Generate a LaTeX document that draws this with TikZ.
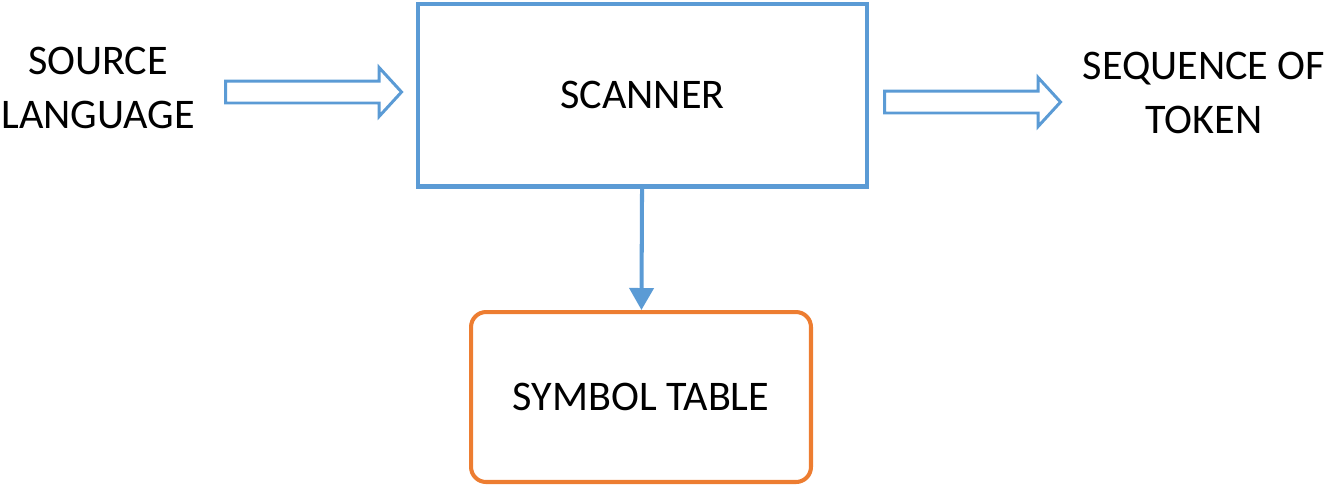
\documentclass[tikz,border=0pt]{standalone}
\usepackage{fontspec}
\setmainfont{Carlito}
\usetikzlibrary{shapes.arrows,arrows.meta}
\definecolor{scanblue}{RGB}{91,155,213}
\definecolor{tableorange}{RGB}{237,125,49}

\begin{document}
\begin{tikzpicture}[x=0.02cm, y=-0.02cm,
    every node/.style={font=\fontsize{24}{31}\selectfont, align=center},
    blockarrow/.style={single arrow, draw=scanblue, line width=1.7pt, fill=white,
      minimum height=3.52cm, inner xsep=0pt, inner ysep=0.19cm,
      single arrow head extend=0.27cm, single arrow tip angle=95}]
          \useasboundingbox (0,0) rectangle (1334,485);

          % Scanner
          \node[draw=scanblue, line width=2.3pt, minimum width=9cm, minimum height=3.66cm] (scanner) at (642.5,95) {SCANNER};

          % Symbol table
          \node[draw=tableorange, line width=2.3pt, rounded corners=0.3cm, minimum width=6.8cm, minimum height=3.4cm] (symtab) at (641,397) {SYMBOL TABLE};

          % Labels
          \node (src) at (98,88) {SOURCE\\LANGUAGE};
          \node (tok) at (1204,93) {SEQUENCE OF\\TOKEN};

          % Arrows
          \node[blockarrow] (inarrow) at (308.5,92) {};
          \node[blockarrow] (outarrow) at (967.5,102) {};
          \draw[-{Triangle[length=0.44cm, width=0.48cm]}, draw=scanblue, fill=scanblue, line width=2.3pt] (scanner) -- (symtab);
        \end{tikzpicture}
\end{document}
